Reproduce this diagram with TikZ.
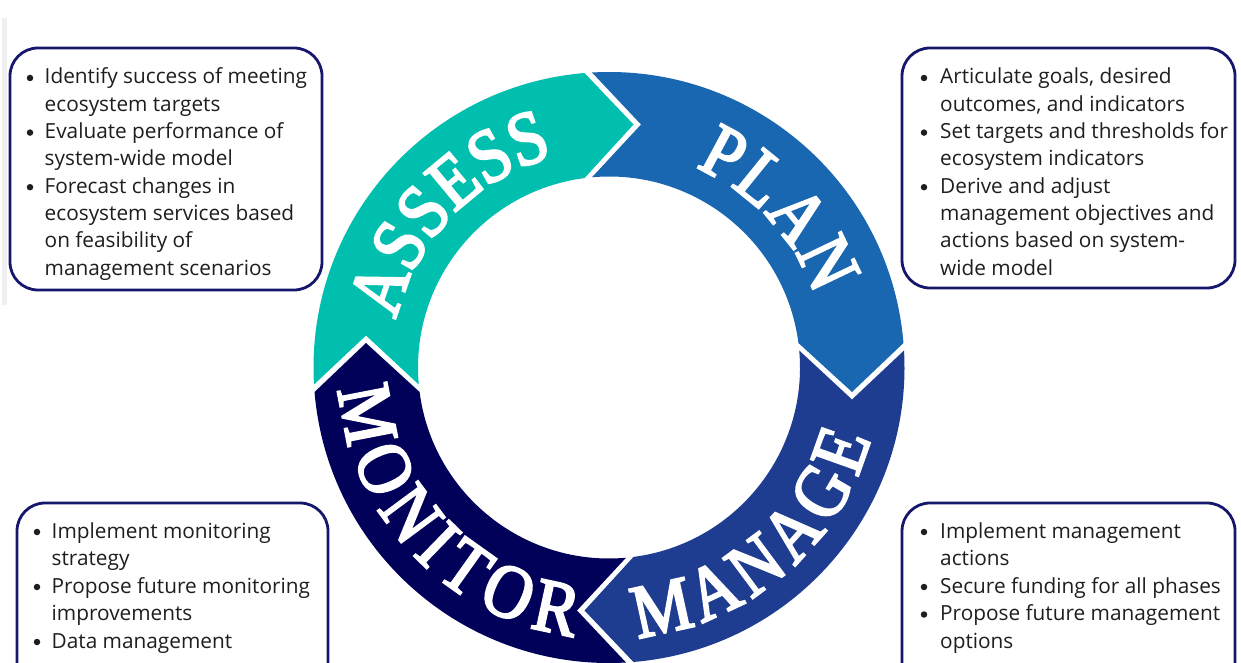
\documentclass[tikz,border=0pt]{standalone}
\usepackage{fontspec}
\setmainfont{Open Sans}
\newfontfamily\ringserif[FakeStretch=0.88,FakeBold=3]{Liberation Serif}
\usetikzlibrary{calc,decorations.text}
\definecolor{assesscol}{HTML}{00BFAE}
\definecolor{plancol}{HTML}{1966B1}
\definecolor{managecol}{HTML}{1E3D91}
\definecolor{monitorcol}{HTML}{01015A}
\definecolor{boxcol}{HTML}{16166C}
\definecolor{txtcol}{HTML}{1E1E1E}
\newcommand\bodyfont{\fontsize{20.8}{27}\selectfont}
\newcommand\ringfont{\ringserif\fontsize{76}{76}\selectfont}
\def\Ro{295.5}
\def\Ri{191}
\def\Rm{243}
\def\chd{24.5}
\def\chg{7.5}
% ring segment from axis #1 (deg) clockwise to axis #1-90
\newcommand\ringseg[2]{%
  \fill[#2] ($(C)+({#1+asin((\chd-\chg)/\Ro)}:\Ro)$)
    arc[start angle={#1+asin((\chd-\chg)/\Ro)}, end angle={#1-90+asin(\chd/\Ro)}, radius=\Ro]
    -- ($(C)+({#1-90}:\Rm)+({#1-180}:\chd)$)
    -- ($(C)+({#1-90+asin(\chd/\Ri)}:\Ri)$)
    arc[start angle={#1-90+asin(\chd/\Ri)}, end angle={#1+asin((\chd-\chg)/\Ri)}, radius=\Ri]
    -- ($(C)+(#1:\Rm)+({#1-90}:{\chd+\chg})$)
    -- cycle;}
\tikzset{
  ln/.style={anchor=base west, inner sep=0pt, font=\bodyfont, text=txtcol},
  bul/.style={circle, fill=txtcol, inner sep=0pt, minimum size=6.5pt},
  infobox/.style={draw=boxcol, line width=2.8pt, rounded corners=28pt},
  ringlabel/.style={decorate, decoration={text along path, text align={fit to path}, text={|\ringfont\color{white}|#1}}}
}
\begin{document}
\begin{tikzpicture}[x=1pt,y=1pt]
\useasboundingbox (0,0) rectangle (1241,662);
\fill[white] (0,0) rectangle (1241,662);
\begin{scope}
\clip (0,0) rectangle (1241,662);
\fill[black!6] (2,357) rectangle (7,644);
\coordinate (C) at (609,294.5);
% ring
\ringseg{180}{assesscol}
\ringseg{90}{plancol}
\ringseg{0}{managecol}
\ringseg{-90}{monitorcol}
% ring labels
\path[ringlabel=ASSESS] ($(C)+(167.3:218)$) arc[start angle=167.3, end angle=105.3, radius=218];
\path[ringlabel=PLAN] ($(C)+(66.6:218)$) arc[start angle=66.6, end angle=19.2, radius=218];
\path[ringlabel=MANAGE] ($(C)+(-83.9:271)$) arc[start angle=-83.9, end angle=-15.3, radius=271];
\path[ringlabel=MONITOR] ($(C)+(184.7:271)$) arc[start angle=184.7, end angle=262.4, radius=271];
% boxes
\draw[infobox] (10,372) rectangle (322,614);
\draw[infobox] (902,374) rectangle (1235,614);
\draw[infobox] (17,-28) rectangle (328,159);
\draw[infobox] (902,-28) rectangle (1235,159);
% top-left text
\foreach \t [count=\i from 0] in {Identify success of meeting,ecosystem targets,Evaluate performance of,system-wide model,Forecast changes in,ecosystem services based,on feasibility of,management scenarios}
  \node[ln] (tl\i) at (44.5,{578-27.3*\i}) {\t};
\foreach \i/\n in {0/1,2/2,4/3}
  \node[bul] (tlb\n) at (30,{584-27.3*\i}) {};
% top-right text
\foreach \t [count=\i from 0] in {{Articulate goals, desired},{outcomes, and indicators},Set targets and thresholds for,ecosystem indicators,Derive and adjust,management objectives and,actions based on system-,wide model}
  \node[ln] (tr\i) at (940,{578-27.3*\i}) {\t};
\foreach \i/\n in {0/1,2/2,4/3}
  \node[bul] (trb\n) at (924,{584-27.3*\i}) {};
% bottom-left text
\foreach \t [count=\i from 0] in {Implement monitoring,strategy,Propose future monitoring,improvements,Data management}
  \node[ln] (bl\i) at (51.5,{124-27.5*\i}) {\t};
\foreach \i/\n in {0/1,2/2,4/3}
  \node[bul] (blb\n) at (37,{130-27.5*\i}) {};
% bottom-right text
\foreach \t [count=\i from 0] in {Implement management,actions,Secure funding for all phases,Propose future management,options}
  \node[ln] (br\i) at (940,{124-27.5*\i}) {\t};
\foreach \i/\n in {0/1,2/2,3/3}
  \node[bul] (brb\n) at (924,{130-27.5*\i}) {};
\end{scope}
\end{tikzpicture}
\end{document}
